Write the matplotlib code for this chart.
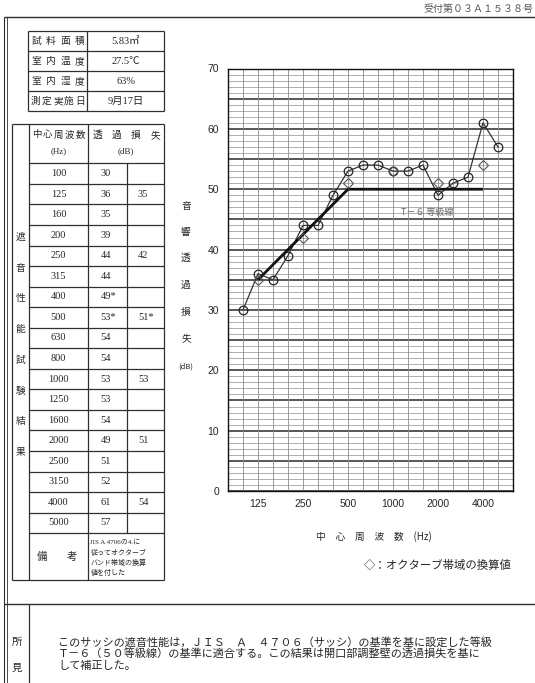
import numpy as np
import matplotlib
matplotlib.use("Agg")
import matplotlib.pyplot as plt

# ---- data -------------------------------------------------------------
freqs = [100, 125, 160, 200, 250, 315, 400, 500, 630, 800,
         1000, 1250, 1600, 2000, 2500, 3150, 4000, 5000]
tl = [30, 36, 35, 39, 44, 44, 49, 53, 54, 54,
      53, 53, 54, 49, 51, 52, 61, 57]
tl_marked = [400, 500]

oct_freqs = [125, 250, 500, 1000, 2000, 4000]
oct_tl = [35, 42, 51, 53, 51, 54]
oct_marked = [500]

grade_freqs = [125, 500, 4000]
grade_vals = [35, 50, 50]
grade_label = 'T－６ 等級線'

y_ticks = [0, 10, 20, 30, 40, 50, 60, 70]
x_tick_freqs = [125, 250, 500, 1000, 2000, 4000]

cond_labels = ['試料面積', '室内温度', '室内湿度', '測定実施日']
cond_values = ['5.83㎡', '27.5℃', '63%', '9月17日']

side_title = '遮音性能試験結果'
y_title = ['音', '響', '透', '過', '損', '失', '(dB)']
x_title = '中　心　周　波　数　(Hz)'
legend_text = '◇：オクターブ帯域の換算値'
remark_lines = ['JIS A 4706の4.に', '従ってオクターブ', 'バンド帯域の換算', '値を付した']
finding_lines = [
    'このサッシの遮音性能は，ＪＩＳ　Ａ　４７０６（サッシ）の基準を基に設定した等級',
    'Ｔ－６（５０等級線）の基準に適合する。この結果は開口部調整壁の透過損失を基に',
    'して補正した。',
]
receipt = '受付第０３Ａ１５３８号'

# ---- style ------------------------------------------------------------
W, H = 535, 683
JP = ['Noto Sans CJK JP', 'DejaVu Sans']
SERIF = ['Liberation Serif', 'Noto Sans CJK JP']
SANS = ['Liberation Sans', 'DejaVu Sans']
INK = '#262626'
LINE = '#303030'

fig = plt.figure(figsize=(W / 100, H / 100), dpi=100)
fig.patch.set_facecolor('white')

# page layer in pixel units (y downwards)
pg = fig.add_axes([0, 0, 1, 1])
pg.set_xlim(0, W)
pg.set_ylim(H, 0)
pg.axis('off')


def hline(y, x0, x1, lw=0.9, c=LINE):
    pg.plot([x0, x1], [y, y], color=c, lw=lw, solid_capstyle='butt')


def vline(x, y0, y1, lw=0.9, c=LINE):
    pg.plot([x, x], [y0, y1], color=c, lw=lw, solid_capstyle='butt')


def spread(text, x0, x1, y, size, family=JP):
    """Place characters evenly between x0 and x1 (justified)."""
    n = len(text)
    if n == 1:
        xs = [(x0 + x1) / 2]
    else:
        xs = np.linspace(x0, x1, n)
    for ch, x in zip(text, xs):
        pg.text(x, y, ch, ha='center', va='center', fontsize=size,
                family=family, color=INK)


# receipt number and page frame
pg.text(533, 9, receipt, ha='right', va='center', fontsize=7.2,
        family=JP, color='#555555')
hline(17, 4, W, lw=1.0)
vline(4, 17, H, lw=0.8)
vline(6.5, 17, H, lw=0.6)

# ---- measurement conditions table ----------------------------------------
cx = [28, 87, 164]
cy = [31, 51, 71, 91, 111]
for y in cy:
    hline(y, cx[0], cx[2])
for x in cx:
    vline(x, cy[0], cy[-1])
for i, (lab, val) in enumerate(zip(cond_labels, cond_values)):
    yc = (cy[i] + cy[i + 1]) / 2
    spread(lab, 36, 80, yc, 7)
    pg.text(126, yc, val, ha='center', va='center', fontsize=7.5,
            family=SERIF, color=INK)

# ---- results table -------------------------------------------------------
tx = [12, 29, 88, 126.5, 164]
t_top, hdr_bot, row_h = 124, 163.3, 20.55
body_bot = hdr_bot + row_h * len(freqs)
rem_bot = 580

hline(t_top, tx[0], tx[4])
hline(rem_bot, tx[0], tx[4])
for k in range(len(freqs) + 1):
    hline(hdr_bot + k * row_h, tx[1], tx[4])
for x in (tx[0], tx[1], tx[2], tx[4]):
    vline(x, t_top, rem_bot)
vline(tx[3], hdr_bot, body_bot)

# side title (vertical)
for ch, y in zip(side_title, np.linspace(237, 452, len(side_title))):
    pg.text(20.5, y, ch, ha='center', va='center', fontsize=7, family=JP,
            color=INK)

# header
spread('中心周波数', 37, 80, 135, 6.8)
pg.text(58.5, 151.5, '(Hz)', ha='center', va='center', fontsize=6.5,
        family=SERIF, color=INK)
spread('透過損失', 98, 155, 135, 7)
pg.text(126, 151.5, '(dB)', ha='center', va='center', fontsize=6.5,
        family=SERIF, color=INK)

oct_lookup = dict(zip(oct_freqs, oct_tl))
for k, (f, v) in enumerate(zip(freqs, tl)):
    yc = hdr_bot + (k + 0.5) * row_h
    pg.text(58.5, yc, str(f), ha='center', va='center', fontsize=7.5,
            family=SERIF, color=INK)
    pg.text(100.5, yc, f'{v}*' if f in tl_marked else str(v), ha='left',
            va='center', fontsize=7.5, family=SERIF, color=INK)
    if f in oct_lookup:
        ov = oct_lookup[f]
        pg.text(138, yc, f'{ov}*' if f in oct_marked else str(ov),
                ha='left', va='center', fontsize=7.5, family=SERIF,
                color=INK)

# remarks row
spread('備考', 42, 72, (body_bot + rem_bot) / 2, 7.5)
for i, line in enumerate(remark_lines):
    pg.text(90.5, 541.5 + i * 10.4, line, ha='left', va='center',
            fontsize=5.0, family=SERIF, color=INK)

# ---- findings section ------------------------------------------------------
hline(604, 4, W, lw=1.0)
vline(28.5, 604, H)
pg.text(17, 642, '所', ha='center', va='center', fontsize=7.5, family=JP,
        color=INK)
pg.text(17, 668, '見', ha='center', va='center', fontsize=7.5, family=JP,
        color=INK)
for i, line in enumerate(finding_lines):
    pg.text(58, 642 + i * 12, line, ha='left', va='center', fontsize=8.0,
            family=JP, color=INK)

# ---- transmission loss chart ---------------------------------------------
ax_l, ax_r, ax_t, ax_b = 228, 513, 68.5, 491
ax = fig.add_axes([ax_l / W, 1 - ax_b / H, (ax_r - ax_l) / W, (ax_b - ax_t) / H])
ax.set_xlim(-1, len(freqs))
ax.set_ylim(0, 70)

for db in range(0, 71):
    major = db % 5 == 0
    ax.axhline(db, color='#2a2a2a' if major else '#9a9a9a',
               lw=1.1 if major else 0.55, zorder=1)
for i in range(-1, len(freqs) + 1):
    ax.axvline(i, color='#8a8a8a', lw=0.6, zorder=1)

xi = np.arange(len(freqs))
ax.plot(xi, tl, color='#333333', lw=0.9, zorder=3)
ax.plot(xi, tl, ls='none', marker='o', ms=6.2, mfc='none', mec='#222222',
        mew=0.9, zorder=4)

oct_x = [freqs.index(f) for f in oct_freqs]
ax.plot(oct_x, oct_tl, ls='none', marker='D', ms=5.2, mfc='none',
        mec='#555555', mew=0.8, zorder=4)

grade_x = [freqs.index(f) for f in grade_freqs]
ax.plot(grade_x, grade_vals, color='#111111', lw=2.0, zorder=3,
        solid_capstyle='butt')
ax.text(12.3, 46.2, grade_label, ha='center', va='center', fontsize=6.5,
        family=JP, color='#666666', zorder=5)

ax.set_yticks(y_ticks)
ax.set_yticklabels([str(v) for v in y_ticks], family=SANS, fontsize=7.5,
                   color=INK)
ax.set_xticks([freqs.index(f) for f in x_tick_freqs])
ax.set_xticklabels([str(f) for f in x_tick_freqs], family=SANS,
                   fontsize=7.5, color=INK)
ax.tick_params(length=0, pad=6.5)
ax.tick_params(axis='x', pad=5.5)
for s in ax.spines.values():
    s.set_color('#111111')
    s.set_linewidth(1.0)

# axis titles
for ch, y in zip(y_title, [206, 232, 258, 285, 312, 338, 367]):
    pg.text(186, y, ch, ha='center', va='center',
            fontsize=5.5 if ch == '(dB)' else 7, family=JP, color=INK)
pg.text(374, 537, x_title, ha='center', va='center', fontsize=7,
        family=JP, color=INK)
pg.text(512, 565, legend_text, ha='right', va='center', fontsize=8.2,
        family=JP, color=INK)

fig.savefig('out.png', dpi=100, facecolor='white')
